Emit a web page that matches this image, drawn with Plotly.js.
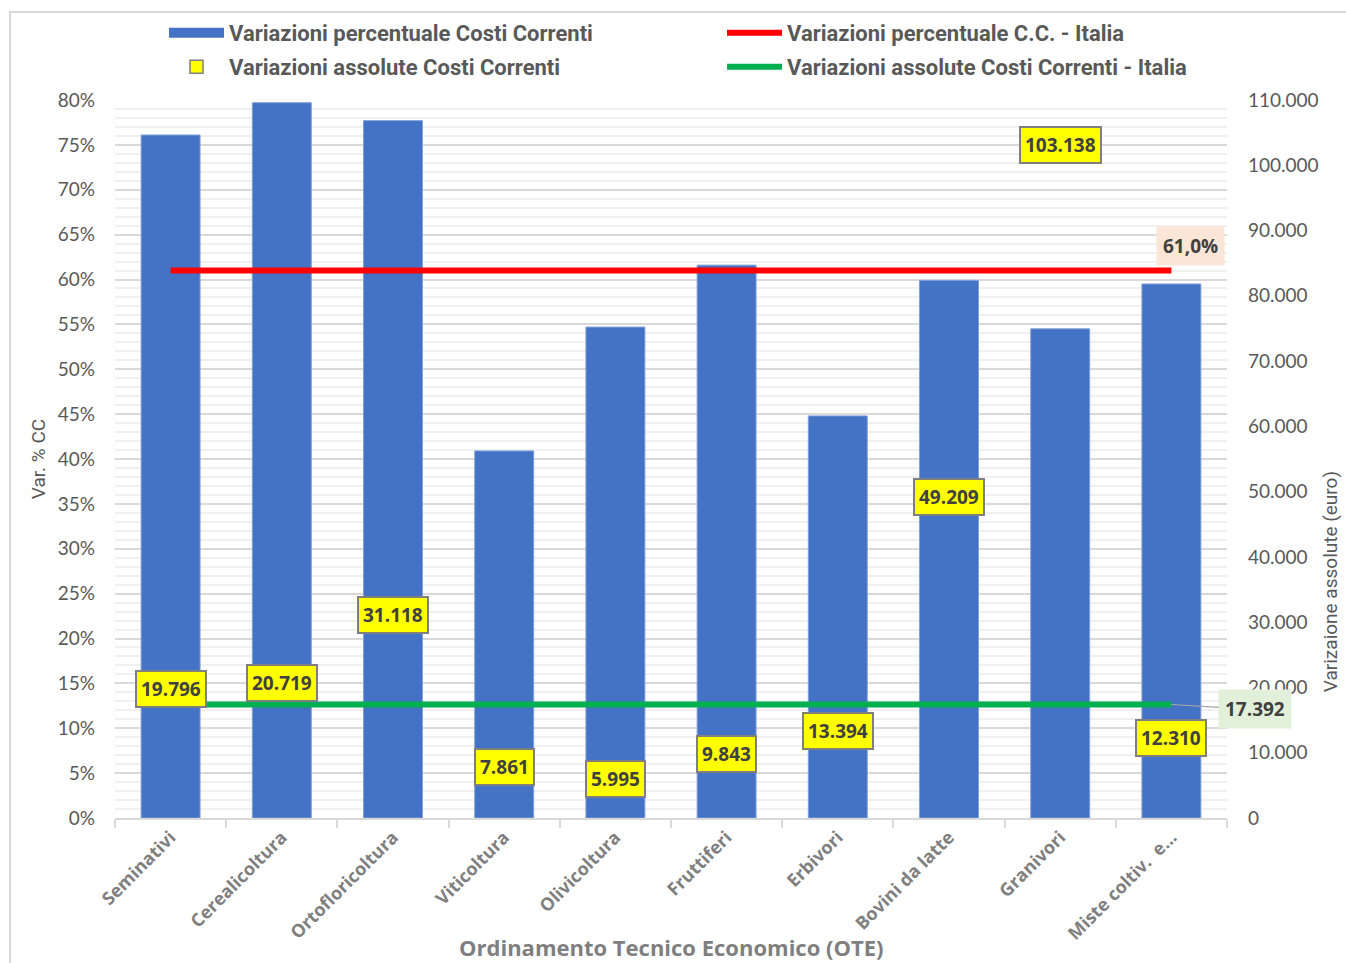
<!DOCTYPE html>
<html>
<head>
<meta charset="utf-8">
<script src="https://cdn.plot.ly/plotly-3.0.1.min.js"></script>
<style>html,body{margin:0;padding:0;background:#fff;}#chart{width:1346px;height:963px;}</style>
</head>
<body>
<div id="chart"></div>
<script>
const categories = ["Seminativi","Cerealicoltura","Ortofloricoltura","Viticoltura","Olivicoltura","Fruttiferi","Erbivori","Bovini da latte","Granivori","Miste coltiv.  e…"];
const varPercentuale = [0.761, 0.797, 0.777, 0.409, 0.547, 0.616, 0.448, 0.599, 0.545, 0.595];
const varAssolute = [19796, 20719, 31118, 7861, 5995, 9843, 13394, 49209, 103138, 12310];
const italiaPercentuale = 0.61;
const italiaAssolute = 17392;

const fmtInt = v => Math.round(v).toString().replace(/\B(?=(\d{3})+(?!\d))/g, ".");
const fmtPct = v => (v*100).toFixed(1).replace(".", ",") + "%";

const textColor = "#595959";
const legendFont = {family: "Liberation Sans Narrow, Arial Narrow, Roboto, sans-serif", size: 22, color: textColor, weight: "bold"};
const barColor = "#4472C4";

const traces = [
  {type: "bar", name: "Variazioni percentuale Costi Correnti", x: categories, y: varPercentuale,
   marker: {color: barColor, line: {color: "#7f9fd8", width: 1}}, width: 0.53, yaxis: "y", showlegend: false},
  {type: "scatter", mode: "lines", name: "Variazioni percentuale Costi Correnti", x: [null], y: [null],
   line: {color: barColor, width: 13}, legend: "legend", hoverinfo: "skip"},
  {type: "scatter", mode: "lines", name: "Variazioni percentuale C.C. - Italia", x: categories,
   y: categories.map(() => italiaPercentuale), line: {color: "#FF0000", width: 6}, yaxis: "y", legend: "legend"},
  {type: "scatter", mode: "markers", name: "Variazioni assolute Costi Correnti", x: categories, y: varAssolute,
   marker: {symbol: "square", size: 13, color: "#FFFF00", line: {color: "#7f7f7f", width: 1.5}}, yaxis: "y2", legend: "legend2"},
  {type: "scatter", mode: "lines", name: "Variazioni assolute Costi Correnti - Italia", x: categories,
   y: categories.map(() => italiaAssolute), line: {color: "#00B050", width: 6}, yaxis: "y2", legend: "legend2"}
];

const labelFont = {family: "Open Sans, sans-serif", size: 19, color: "#404040", weight: "bold"};
const annotations = categories.map((c, i) => ({
  x: c, y: varAssolute[i], xref: "x", yref: "y2", text: fmtInt(varAssolute[i]), showarrow: false,
  bgcolor: "#FFFF00", bordercolor: "#7f7f7f", borderwidth: 2, borderpad: 4,
  font: labelFont, xanchor: "center", yanchor: "middle"
}));
annotations.push({
  x: 0.967, xref: "paper", y: 0.6373, yref: "y", text: fmtPct(italiaPercentuale), showarrow: false,
  bgcolor: "#FBE5D6", borderpad: 6, font: labelFont, xanchor: "center", yanchor: "middle"
});
annotations.push({
  x: categories[categories.length-1], xref: "x", y: italiaAssolute, yref: "y2", text: fmtInt(italiaAssolute),
  showarrow: true, arrowhead: 0, arrowwidth: 1.2, arrowcolor: "#a6a6a6", ax: 84, ay: 5, standoff: 0,
  bgcolor: "#E2F0D9", borderpad: 6, font: labelFont
});
annotations.push({
  x: -0.069, xref: "paper", y: 0.5, yref: "paper", text: "Var. % CC", textangle: -90, showarrow: false,
  font: {family: "Liberation Sans Narrow, Arial Narrow, Roboto, sans-serif", size: 19, color: textColor},
  xanchor: "center", yanchor: "middle"
});
annotations.push({
  x: 1.093, xref: "paper", y: 0.329, yref: "paper", text: "Varizaione assolute (euro)", textangle: -90, showarrow: false,
  font: {family: "Liberation Sans Narrow, Arial Narrow, Roboto, sans-serif", size: 19, color: textColor},
  xanchor: "center", yanchor: "middle"
});
annotations.push({
  x: 0.5, xref: "paper", y: (818-947)/718, yref: "paper", text: "Ordinamento Tecnico Economico (OTE)", showarrow: false,
  font: {family: "Open Sans, sans-serif", size: 22, color: "#7f7f7f", weight: "bold"},
  xanchor: "center", yanchor: "middle"
});

const legendBase = {orientation: "h", xref: "container", yref: "container", x: 164/1346, xanchor: "left",
  yanchor: "middle", entrywidth: 488, entrywidthmode: "pixels", font: legendFont, itemwidth: 55,
  traceorder: "normal", bgcolor: "rgba(0,0,0,0)", borderwidth: 0};

const layout = {
  width: 1346, height: 963,
  margin: {l: 115, r: 119, t: 100, b: 145},
  paper_bgcolor: "#ffffff", plot_bgcolor: "#ffffff",
  separators: ",.",
  showlegend: true,
  legend: Object.assign({}, legendBase, {y: 1 - 33/963}),
  legend2: Object.assign({}, legendBase, {y: 1 - 67/963}),
  xaxis: {type: "category", range: [-0.5, 9.5], autorange: false, showgrid: false, showline: true, linecolor: "#d9d9d9", linewidth: 1.5,
          ticks: "outside", tickson: "boundaries", ticklen: 8, tickcolor: "#d9d9d9", tickwidth: 1.5,
          tickangle: -45, tickfont: {family: "Open Sans, sans-serif", size: 18, color: "#7f7f7f", weight: "bold"},
          zeroline: false},
  yaxis: {range: [0, 0.8], autorange: false, dtick: 0.05, tickformat: ".0%", showgrid: true, gridcolor: "#d9d9d9", gridwidth: 1.5,
          minor: {dtick: 0.01, showgrid: true, gridcolor: "#f0f0f0", gridwidth: 1.5},
          zeroline: false, showline: false, ticks: "", ticklabelstandoff: 19,
          tickfont: {family: "Lato, sans-serif", size: 19, color: textColor}},
  yaxis2: {range: [0, 110000], autorange: false, dtick: 10000, tickformat: ",d", overlaying: "y", side: "right",
           showgrid: false, zeroline: false, showline: false, ticks: "", ticklabelstandoff: 20,
           tickfont: {family: "Lato, sans-serif", size: 19, color: textColor}},
  bargap: 0.47,
  annotations: annotations,
  shapes: [{type: "rect", xref: "paper", yref: "paper", x0: (10-115)/1112, x1: (1360-115)/1112,
            y0: (818-980)/718, y1: (818-12)/718, line: {color: "#d9d9d9", width: 2}, fillcolor: "rgba(0,0,0,0)", layer: "below"}]
};

Plotly.newPlot("chart", traces, layout, {displayModeBar: false, responsive: false});
</script>
</body>
</html>
